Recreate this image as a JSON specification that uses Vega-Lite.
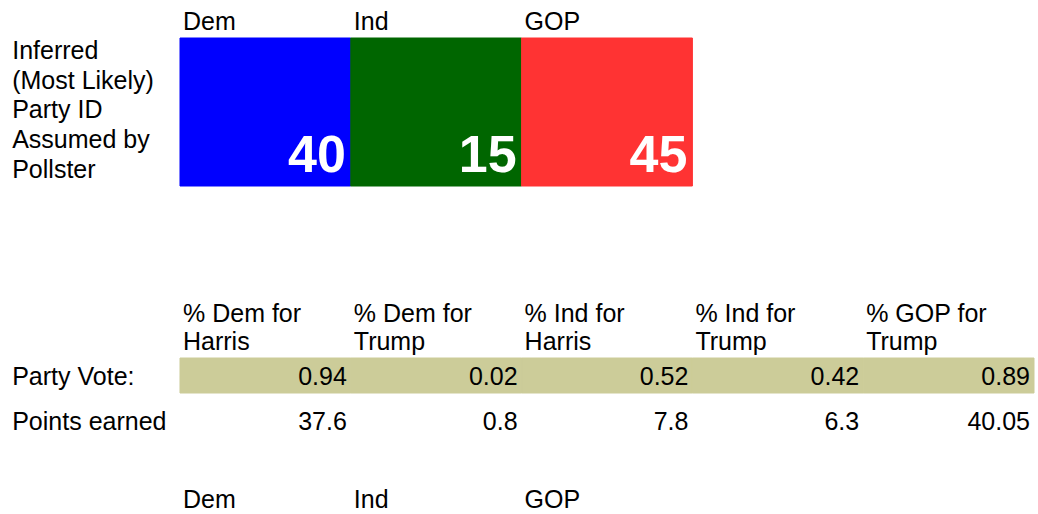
{
  "$schema": "https://vega.github.io/schema/vega-lite/v6.json",
  "width": 1038,
  "height": 514,
  "padding": 0,
  "autosize": {"type": "none"},
  "background": "#ffffff",
  "config": {"view": {"stroke": null}, "text": {"font": "Liberation Sans", "fontSize": 25, "color": "#000000"}},
  "datasets": {
    "parties": [
      {"party": "Dem", "col": "B", "pct": 40},
      {"party": "Ind", "col": "C", "pct": 15},
      {"party": "GOP", "col": "D", "pct": 45}
    ],
    "cells": [
      {"col": "B", "row": 0, "text": "Dem"},
      {"col": "C", "row": 0, "text": "Ind"},
      {"col": "D", "row": 0, "text": "GOP"},
      {"col": "A", "row": 1, "text": "Inferred"},
      {"col": "A", "row": 2, "text": "(Most Likely)"},
      {"col": "A", "row": 3, "text": "Party ID"},
      {"col": "A", "row": 4, "text": "Assumed by"},
      {"col": "A", "row": 5, "text": "Pollster"},
      {"col": "A", "row": 11, "text": "Party Vote:"},
      {"col": "A", "row": 12, "text": "Points earned"},
      {"col": "B", "row": 14, "text": "Dem"},
      {"col": "C", "row": 14, "text": "Ind"},
      {"col": "D", "row": 14, "text": "GOP"}
    ],
    "votes": [
      {"col": "B", "label": "% Dem for\nHarris", "share": 0.94, "points": 37.6},
      {"col": "C", "label": "% Dem for\nTrump", "share": 0.02, "points": 0.8},
      {"col": "D", "label": "% Ind for\nHarris", "share": 0.52, "points": 7.8},
      {"col": "E", "label": "% Ind for\nTrump", "share": 0.42, "points": 6.3},
      {"col": "F", "label": "% GOP for\nTrump", "share": 0.89, "points": 40.05}
    ]
  },
  "encoding": {
    "x": {
      "field": "col", "type": "nominal", "axis": null,
      "scale": {"domain": ["A", "B", "C", "D", "E", "F"], "range": [9.2, 1034], "paddingInner": 0, "paddingOuter": 0}
    }
  },
  "layer": [
    {
      "data": {"name": "parties"},
      "mark": {"type": "rect", "strokeWidth": 1},
      "encoding": {
        "y": {"datum": 0, "type": "quantitative", "axis": null,
              "scale": {"domain": [0, 5, 9, 10, 11, 12, 14], "range": [38, 186, 298, 358, 393, 438, 516], "nice": false, "zero": false}},
        "y2": {"datum": 5},
        "color": {"field": "party", "type": "nominal", "legend": null,
                  "scale": {"domain": ["Dem", "Ind", "GOP"], "range": ["#0000FF", "#006600", "#FF3333"]}},
        "stroke": {"field": "party", "type": "nominal", "legend": null,
                  "scale": {"domain": ["Dem", "Ind", "GOP"], "range": ["#0000FF", "#006600", "#FF3333"]}}
      }
    },
    {
      "data": {"name": "votes"},
      "mark": {"type": "rect", "color": "#CCCC99", "stroke": "#CCCC99", "strokeWidth": 1},
      "encoding": {
        "y": {"datum": 10, "type": "quantitative"},
        "y2": {"datum": 11}
      }
    },
    {
      "data": {"name": "parties"},
      "mark": {"type": "text", "align": "right", "baseline": "alphabetic", "fontSize": 52, "fontWeight": "bold", "color": "#ffffff", "dx": -5, "dy": -14},
      "encoding": {
        "x": {"field": "col", "type": "nominal", "bandPosition": 1},
        "y": {"datum": 5, "type": "quantitative"},
        "text": {"field": "pct", "type": "nominal"}
      }
    },
    {
      "data": {"name": "cells"},
      "mark": {"type": "text", "align": "left", "baseline": "alphabetic", "dx": 3, "dy": -8.5},
      "encoding": {
        "x": {"field": "col", "type": "nominal", "bandPosition": 0},
        "y": {"field": "row", "type": "quantitative"},
        "text": {"field": "text", "type": "nominal"}
      }
    },
    {
      "data": {"name": "votes"},
      "mark": {"type": "text", "align": "left", "baseline": "alphabetic", "lineBreak": "\n", "lineHeight": 28, "dx": 3, "dy": -36},
      "encoding": {
        "x": {"field": "col", "type": "nominal", "bandPosition": 0},
        "y": {"datum": 10, "type": "quantitative"},
        "text": {"field": "label", "type": "nominal"}
      }
    },
    {
      "data": {"name": "votes"},
      "mark": {"type": "text", "align": "right", "baseline": "alphabetic", "dx": -4, "dy": -8},
      "encoding": {
        "x": {"field": "col", "type": "nominal", "bandPosition": 1},
        "y": {"datum": 11, "type": "quantitative"},
        "text": {"field": "share", "type": "quantitative", "format": ".2f"}
      }
    },
    {
      "data": {"name": "votes"},
      "mark": {"type": "text", "align": "right", "baseline": "alphabetic", "dx": -4, "dy": -8},
      "encoding": {
        "x": {"field": "col", "type": "nominal", "bandPosition": 1},
        "y": {"datum": 12, "type": "quantitative"},
        "text": {"field": "points", "type": "nominal"}
      }
    }
  ]
}
